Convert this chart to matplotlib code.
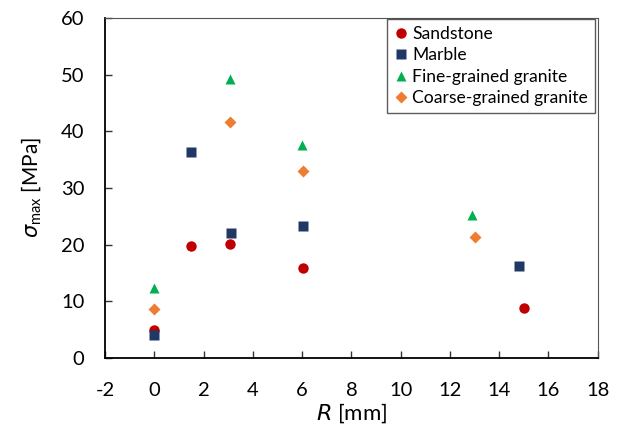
import matplotlib
matplotlib.use("Agg")
import matplotlib.pyplot as plt

plt.rcParams["font.family"] = ["Lato", "DejaVu Sans"]
plt.rcParams["mathtext.fontset"] = "custom"
plt.rcParams["mathtext.rm"] = "Lato"
plt.rcParams["mathtext.it"] = "DejaVu Sans:italic"
plt.rcParams["axes.unicode_minus"] = False

# data
sand_r = [0, 1.5, 3.05, 6.05, 15.0]
sand_s = [5.0, 19.8, 20.2, 15.9, 8.9]

marble_r = [0, 1.5, 3.1, 6.05, 14.8]
marble_s = [4.1, 36.4, 22.0, 23.3, 16.2]

fine_r = [0, 3.05, 6.0, 12.9]
fine_s = [12.3, 49.2, 37.6, 25.2]

coarse_r = [0, 3.05, 6.05, 13.0]
coarse_s = [8.7, 41.7, 33.0, 21.4]

xticks = list(range(-2, 19, 2))
yticks = list(range(0, 61, 10))

fig = plt.figure(figsize=(6.22, 4.46), dpi=100, facecolor="white")
ax = fig.add_axes([0.169, 0.197, 0.792, 0.763])

ax.plot(sand_r, sand_s, "o", color="#C00000", ms=7.5, mec="none", label="Sandstone", zorder=3)
ax.plot(marble_r, marble_s, "s", color="#1F3864", ms=7, mec="none", label="Marble", zorder=3)
ax.plot(fine_r, fine_s, "^", color="#00B050", ms=7.5, mec="none", label="Fine-grained granite", zorder=3)
ax.plot(coarse_r, coarse_s, "D", color="#ED7D31", ms=5.8, mec="none", label="Coarse-grained granite", zorder=3)

ax.set_xlim(-2, 18)
ax.set_ylim(0, 60)
ax.set_xticks(xticks)
ax.set_yticks(yticks)
ax.tick_params(direction="in", length=5, width=1, labelsize=14.5, color="#333333")
ax.tick_params(axis="x", pad=17)
ax.tick_params(axis="y", pad=15)

ax.spines["left"].set_color("black")
ax.spines["bottom"].set_color("black")
ax.spines["left"].set_linewidth(1.3)
ax.spines["bottom"].set_linewidth(1.3)
ax.spines["top"].set_color("#555555")
ax.spines["right"].set_color("#555555")

ax.set_xlabel(r"$\mathit{R}$ [mm]", fontsize=16, labelpad=2)
ax.set_ylabel(r"$\mathit{\sigma}_{\mathrm{max}}$ [MPa]", fontsize=15, labelpad=12)

leg = ax.legend(loc="upper right", fontsize=12.6, frameon=True, fancybox=False,
                edgecolor="#333333", handlelength=0.8, handletextpad=0.25,
                borderpad=0.4, labelspacing=0.3, borderaxespad=0,
                bbox_to_anchor=(0.994, 0.996))
leg.get_frame().set_linewidth(1.0)

fig.savefig("out.png", dpi=100)
